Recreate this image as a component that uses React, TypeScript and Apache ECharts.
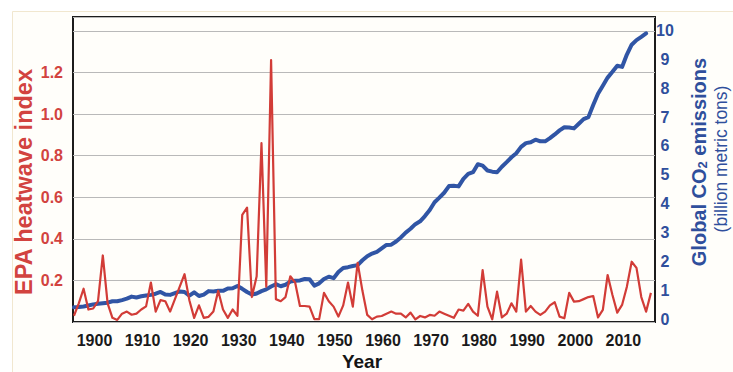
import React, { useEffect, useRef } from "react";
import * as echarts from "echarts";

const firstYear = 1895;
const heatwaveIndex = [
  0.03, 0.09, 0.16, 0.06, 0.065, 0.1, 0.32, 0.09, 0.02, 0.01,
  0.04, 0.05, 0.035, 0.04, 0.06, 0.075, 0.19, 0.05, 0.105, 0.1,
  0.05, 0.11, 0.17, 0.23, 0.105, 0.02, 0.08, 0.02, 0.025, 0.05,
  0.15, 0.06, 0.02, 0.06, 0.03, 0.515, 0.55, 0.12, 0.22, 0.86,
  0.17, 1.26, 0.11, 0.1, 0.12, 0.22, 0.19, 0.077, 0.077, 0.074,
  0.014, 0.014, 0.14, 0.1, 0.074, 0.026, 0.08, 0.19, 0.074, 0.285,
  0.15, 0.034, 0.013, 0.026, 0.029, 0.04, 0.05, 0.04, 0.04, 0.022,
  0.045, 0.013, 0.029, 0.022, 0.034, 0.03, 0.05, 0.04, 0.03, 0.02,
  0.06, 0.055, 0.087, 0.05, 0.03, 0.25, 0.074, 0.013, 0.146, 0.022,
  0.04, 0.09, 0.05, 0.3, 0.05, 0.077, 0.05, 0.034, 0.05, 0.08,
  0.095, 0.026, 0.018, 0.14, 0.098, 0.1, 0.11, 0.12, 0.125, 0.022,
  0.058, 0.226, 0.13, 0.045, 0.082, 0.17, 0.29, 0.26, 0.12, 0.05,
  0.14,
];
const co2Emissions = [
  0.41, 0.42, 0.44, 0.47, 0.51, 0.53, 0.55, 0.57, 0.62, 0.62,
  0.66, 0.71, 0.78, 0.75, 0.79, 0.82, 0.84, 0.88, 0.94, 0.85,
  0.84, 0.9, 0.96, 0.94, 0.81, 0.93, 0.8, 0.85, 0.97, 0.96,
  0.98, 0.98, 1.06, 1.07, 1.15, 1.05, 0.94, 0.85, 0.89, 0.97,
  1.03, 1.13, 1.21, 1.14, 1.19, 1.3, 1.33, 1.34, 1.39, 1.38,
  1.16, 1.24, 1.39, 1.47, 1.42, 1.63, 1.77, 1.8, 1.84, 1.87,
  2.04, 2.18, 2.27, 2.33, 2.45, 2.57, 2.58, 2.69, 2.83, 3.0,
  3.13, 3.29, 3.39, 3.57, 3.78, 4.05, 4.21, 4.38, 4.61, 4.62,
  4.6, 4.86, 5.03, 5.09, 5.37, 5.32, 5.15, 5.11, 5.09, 5.28,
  5.44, 5.61, 5.75, 5.97, 6.1, 6.13, 6.22, 6.16, 6.16, 6.27,
  6.4, 6.54, 6.65, 6.64, 6.61, 6.77, 6.93, 7.0, 7.42, 7.81,
  8.09, 8.37, 8.57, 8.78, 8.74, 9.17, 9.51, 9.67, 9.78, 9.9,
];
const yearTicks = [1900, 1910, 1920, 1930, 1940, 1950, 1960, 1970, 1980, 1990, 2000, 2010];
const heatTicks = [0.2, 0.4, 0.6, 0.8, 1.0, 1.2];
const co2Ticks = [0, 1, 2, 3, 4, 5, 6, 7, 8, 9, 10];

const RED = "#d23c37";
const BLUE = "#3055a5";
const RED_TXT = "#d2433f";
const BLUE_TXT = "#2f4f9c";
const NARROW = "'Liberation Sans Narrow', 'Liberation Sans', Arial, sans-serif";
const SANS = "'Liberation Sans', Arial, sans-serif";

export default function App() {
  const ref = useRef<HTMLDivElement>(null);
  useEffect(() => {
    if (!ref.current) return;
    const chart = echarts.init(ref.current, null, { renderer: "svg" });
    const heatData = heatwaveIndex.map((v, i) => [firstYear + i, v]);
    const co2Data = co2Emissions.map((v, i) => [firstYear + i, v]);
    chart.setOption({
      animation: false,
      backgroundColor: "#ffffff",
      grid: {
        left: 73,
        right: 78,
        top: 17,
        bottom: 50,
        show: true,
        borderColor: "#1c1c1c",
        borderWidth: 2,
      },
      xAxis: {
        type: "value",
        min: 1894.8,
        max: 2015.85,
        axisLine: { show: false },
        axisTick: { show: false },
        splitLine: { show: false },
        axisLabel: {
          customValues: yearTicks,
          formatter: (v: number) => String(Math.round(v)),
          color: "#1a1a1a",
          fontFamily: NARROW,
          fontWeight: "bold",
          fontSize: 16,
          margin: 10,
          padding: [0, 7, 0, 0],
        },
      },
      yAxis: [
        {
          type: "value",
          min: 0,
          max: 1.467,
          interval: 0.2,
          axisLine: { show: false },
          axisTick: { show: false },
          splitLine: { show: true, lineStyle: { color: "#b9b9b9", width: 1 } },
          axisLabel: {
            customValues: heatTicks,
            formatter: (v: number) => v.toFixed(1),
            color: RED_TXT,
            fontFamily: NARROW,
            fontWeight: "bold",
            fontSize: 16,
            margin: 10,
          },
        },
        {
          type: "value",
          min: -0.1,
          max: 10.47,
          position: "right",
          axisLine: { show: false },
          axisTick: { show: false },
          splitLine: { show: false },
          axisLabel: {
            customValues: co2Ticks,
            formatter: (v: number) => String(Math.round(v)),
            color: BLUE_TXT,
            fontFamily: NARROW,
            fontWeight: "bold",
            fontSize: 16,
            margin: 10,
            align: "center",
          },
        },
      ],
      series: [
        {
          type: "line",
          name: "Global CO2 emissions",
          yAxisIndex: 1,
          data: co2Data,
          showSymbol: false,
          lineStyle: { color: BLUE, width: 4, join: "round", cap: "round" },
          itemStyle: { color: BLUE },
          z: 2,
        },
        {
          type: "line",
          name: "EPA heatwave index",
          yAxisIndex: 0,
          data: heatData,
          showSymbol: false,
          lineStyle: { color: RED, width: 2.2, join: "round" },
          itemStyle: { color: RED },
          z: 3,
        },
      ],
      graphic: [
        {
          type: "rect",
          z: -10,
          shape: { x: 12.5, y: 11.5, width: 730, height: 370 },
          style: { fill: "#fffefa", stroke: "#f1e7cf", lineWidth: 1 },
          silent: true,
        },
        {
          type: "text",
          x: 24,
          y: 182,
          rotation: Math.PI / 2,
          style: {
            text: "EPA heatwave index",
            fill: RED_TXT,
            font: `bold 23.5px ${SANS}`,
            align: "center",
            verticalAlign: "middle",
          },
        },
        {
          type: "text",
          x: 698,
          y: 162,
          rotation: Math.PI / 2,
          style: {
            text: "{a|Global CO}{s|2}{a| emissions}",
            align: "center",
            verticalAlign: "middle",
            rich: {
              a: {
                fill: BLUE_TXT,
                fontFamily: SANS,
                fontWeight: "bold",
                fontSize: 20,
                lineHeight: 22,
                verticalAlign: "bottom",
              },
              s: {
                fill: BLUE_TXT,
                fontFamily: SANS,
                fontWeight: "bold",
                fontSize: 13,
                lineHeight: 12,
                verticalAlign: "bottom",
              },
            },
          },
        },
        {
          type: "text",
          x: 721,
          y: 159,
          rotation: Math.PI / 2,
          style: {
            text: "(billion metric tons)",
            fill: BLUE_TXT,
            font: `17.5px ${SANS}`,
            align: "center",
            verticalAlign: "middle",
          },
        },
        {
          type: "text",
          x: 362,
          y: 361,
          style: {
            text: "Year",
            fill: "#151515",
            font: `bold 19px ${SANS}`,
            align: "center",
            verticalAlign: "middle",
          },
        },
      ],
    });
    return () => chart.dispose();
  }, []);
  return (
    <div
      ref={ref}
      style={{ position: "fixed", left: 0, top: 0, width: 733, height: 372 }}
    />
  );
}
